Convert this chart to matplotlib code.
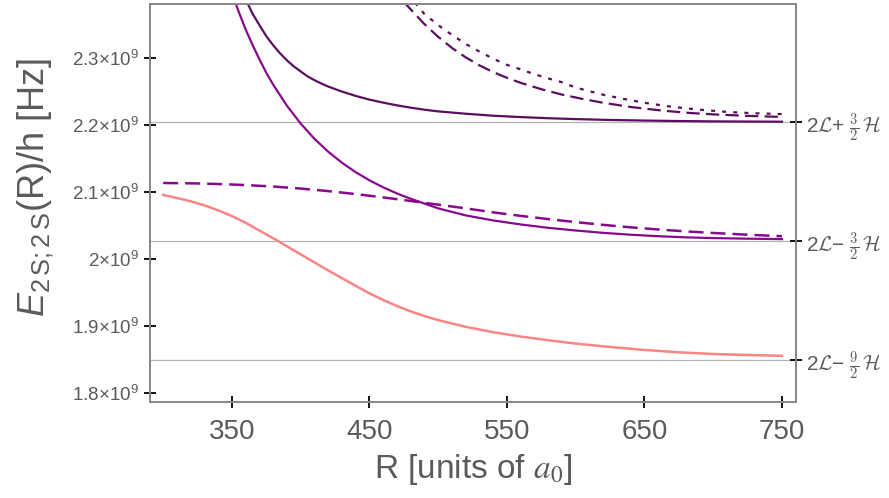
import matplotlib
matplotlib.use("Agg")
import matplotlib.pyplot as plt

plt.rcParams['font.family'] = ['Liberation Sans', 'DejaVu Sans']
plt.rcParams['mathtext.fontset'] = 'custom'
plt.rcParams['mathtext.rm'] = 'Liberation Sans'
plt.rcParams['mathtext.it'] = 'Liberation Sans:italic'

# values, energies in units of 1e9 Hz
pink_r = [300, 310, 320, 330, 340, 350, 360, 370, 380, 390, 400, 410, 420, 430, 440, 450, 460, 470,
          480, 490, 500, 520, 540, 560, 580, 600, 625, 650, 675, 700, 725, 750]
pink_e = [2.0955, 2.091, 2.086, 2.080, 2.0725, 2.064, 2.054, 2.0425, 2.031, 2.019, 2.007, 1.995, 1.983,
          1.9715, 1.960, 1.949, 1.939, 1.930, 1.922, 1.915, 1.909, 1.899, 1.891, 1.8845, 1.879, 1.874,
          1.869, 1.8645, 1.861, 1.8585, 1.857, 1.8558]

mid_dash_r = [300, 320, 340, 360, 380, 400, 420, 440, 460, 480, 500, 520, 540, 560, 580, 600, 620,
              640, 660, 680, 700, 725, 750]
mid_dash_e = [2.1133, 2.1128, 2.1118, 2.1102, 2.1080, 2.1050, 2.1012, 2.0968, 2.0918, 2.0865, 2.0810,
              2.0755, 2.0695, 2.0643, 2.0595, 2.0550, 2.0509, 2.0472, 2.0440, 2.0412, 2.0388, 2.0362,
              2.0340]

mid_solid_r = [352, 355, 360, 365, 370, 375, 380, 390, 400, 410, 420, 430, 440, 450, 460, 470, 480,
               500, 520, 540, 560, 580, 600, 620, 640, 660, 680, 700, 725, 750]
mid_solid_e = [2.385, 2.368, 2.342, 2.319, 2.2976, 2.2775, 2.2598, 2.2284, 2.2018, 2.1792, 2.1599,
               2.1435, 2.1294, 2.1173, 2.1068, 2.0977, 2.0898, 2.0755, 2.0650, 2.0575, 2.0515, 2.0465,
               2.0425, 2.0390, 2.0362, 2.0340, 2.0323, 2.0312, 2.0303, 2.0297]

dark_solid_r = [361.4, 365, 370, 375, 380, 385, 390, 395, 400, 405, 410, 415, 420, 430, 440, 450, 460,
                470, 480, 490, 500, 520, 540, 560, 580, 600, 625, 650, 675, 700, 750]
dark_solid_e = [2.381, 2.3655, 2.3485, 2.332, 2.3185, 2.3065, 2.2960, 2.2870, 2.2795, 2.2722, 2.2665,
                2.2615, 2.2570, 2.2495, 2.2430, 2.2375, 2.2330, 2.2290, 2.2255, 2.2225, 2.2200, 2.2165,
                2.2135, 2.2115, 2.2098, 2.2085, 2.2072, 2.2063, 2.2056, 2.2051, 2.2046]

dark_dash_r = [475, 480, 490, 500, 510, 520, 530, 540, 550, 560, 575, 590, 605, 620, 640, 660, 680,
               700, 725, 750]
dark_dash_e = [2.383, 2.372, 2.350, 2.331, 2.3145, 2.3005, 2.2885, 2.2785, 2.2700, 2.2625, 2.253,
               2.245, 2.2385, 2.2328, 2.2265, 2.2218, 2.218, 2.2155, 2.2133, 2.2117]

dark_dot_r = [483, 490, 500, 510, 520, 530, 540, 550, 560, 570, 580, 590, 600, 610, 620, 635, 650,
              670, 690, 710, 730, 750]
dark_dot_e = [2.382, 2.365, 2.3485, 2.334, 2.3205, 2.309, 2.2985, 2.2893, 2.2826, 2.2754, 2.2691,
              2.2634, 2.2555, 2.2500, 2.2448, 2.2385, 2.2328, 2.2268, 2.2225, 2.2192, 2.2172, 2.2160]

# asymptotic levels 2L+3/2H, 2L-3/2H, 2L-9/2H
asym_e = [2.2044, 2.0268, 1.8492]
asym_labels = [r'2$\mathcal{L}$+ $\frac{3}{2}\,\mathcal{H}$',
               r'2$\mathcal{L}$− $\frac{3}{2}\,\mathcal{H}$',
               r'2$\mathcal{L}$− $\frac{9}{2}\,\mathcal{H}$']

x_ticks = [350, 450, 550, 650, 750]
y_ticks = [1.8, 1.9, 2.0, 2.1, 2.2, 2.3]
y_labels = [r'1.8$\times$10$^{9}$', r'1.9$\times$10$^{9}$', r'2$\times$10$^{9}$',
            r'2.1$\times$10$^{9}$', r'2.2$\times$10$^{9}$', r'2.3$\times$10$^{9}$']

pink = '#f98585'
mid = '#880a8c'
dark = '#5a0f5e'
txt = '#5a5a5a'
spine = '#888888'

fig = plt.figure(figsize=(8.89, 4.98), dpi=100)
ax = fig.add_axes([0.1687, 0.1928, 0.7267, 0.7992])

for e in asym_e:
    ax.axhline(e, color='#b4b4b4', lw=0.9, zorder=1)

ax.plot(pink_r, pink_e, color=pink, lw=1.8)
ax.plot(mid_dash_r, mid_dash_e, color=mid, lw=1.8, dashes=(6, 2.8))
ax.plot(mid_solid_r, mid_solid_e, color=mid, lw=1.6)
ax.plot(dark_solid_r, dark_solid_e, color=dark, lw=1.6)
ax.plot(dark_dash_r, dark_dash_e, color=dark, lw=1.6, dashes=(6, 2.8))
ax.plot(dark_dot_r, dark_dot_e, color=dark, lw=1.6, dashes=(1.8, 3.2))

ax.set_xlim(290.4, 760.2)
ax.set_ylim(1.787, 2.380)

ax.set_xticks(x_ticks)
ax.set_xticklabels([str(v) for v in x_ticks], fontsize=20, color=txt)
ax.set_yticks(y_ticks)
ax.set_yticklabels(y_labels, fontsize=13.5, color=txt)
ax.tick_params(axis='both', direction='inout', length=8, width=1.3, color='black')
ax.tick_params(axis='x', pad=8)
ax.tick_params(axis='y', pad=4)

for s in ax.spines.values():
    s.set_color(spine)
    s.set_linewidth(1.3)

ax.set_xlabel(r'R [units of $a_0$]', fontsize=24, color=txt)
ax.xaxis.label.set_math_fontfamily('stix')
ax.xaxis.set_label_coords(0.5, -0.125)
ax.set_ylabel(r'$E_{2\,\mathrm{S};2\,\mathrm{S}}$(R)/h [Hz]', fontsize=26, color=txt)
ax.yaxis.set_label_coords(-0.145, 0.54)

ax2 = ax.twinx()
ax2.set_ylim(ax.get_ylim())
ax2.set_yticks(asym_e)
ax2.set_yticklabels(asym_labels, fontsize=15, color=txt)
for lbl in ax2.get_yticklabels():
    lbl.set_math_fontfamily('cm')
ax2.tick_params(axis='y', direction='inout', length=8, width=1.3, color='black', pad=3)
for s in ax2.spines.values():
    s.set_color(spine)
    s.set_linewidth(1.3)

fig.savefig('out.png', dpi=100)
